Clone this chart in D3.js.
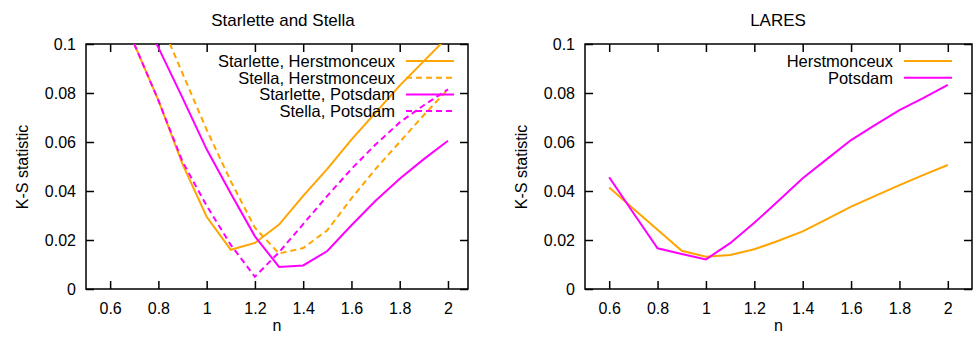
<!DOCTYPE html>
<html>
<head>
<meta charset="utf-8">
<script src="https://cdn.jsdelivr.net/npm/d3@7"></script>
<style>
  body { margin: 0; background: #fff; }
  svg text { font-family: "Liberation Sans", Arial, sans-serif; fill: #000; }
</style>
</head>
<body>
<div id="chart"></div>
<script>
// n values and K-S statistics
const nLeft = [0.7, 0.8, 0.9, 1.0, 1.1, 1.2, 1.3, 1.4, 1.5, 1.6, 1.7, 1.8, 1.9, 2.0];
const starletteHerst = [0.100, 0.077, 0.051, 0.0295, 0.016, 0.0188, 0.0263, 0.038, 0.049, 0.061, 0.072, 0.083, 0.093, 0.103];
const stellaHerst    = [0.134, 0.111, 0.088, 0.065, 0.044, 0.025, 0.0145, 0.0167, 0.024, 0.037, 0.049, 0.060, 0.071, 0.0815];
const starlettePots  = [0.119, 0.0985, 0.078, 0.057, 0.039, 0.0215, 0.009, 0.0096, 0.0155, 0.026, 0.036, 0.045, 0.053, 0.0605];
const stellaPots     = [0.100, 0.077, 0.052, 0.034, 0.018, 0.005, 0.015, 0.0265, 0.038, 0.049, 0.059, 0.068, 0.075, 0.0815];

const nRight = [0.6, 0.7, 0.8, 0.9, 1.0, 1.1, 1.2, 1.3, 1.4, 1.5, 1.6, 1.7, 1.8, 1.9, 2.0];
const laresHerst = [0.0414, 0.0328, 0.0242, 0.0156, 0.0132, 0.0139, 0.0162, 0.0197, 0.0235, 0.0285, 0.0336, 0.038, 0.0424, 0.0466, 0.0506];
const laresPots  = [0.0456, 0.031, 0.0166, 0.0143, 0.0121, 0.0187, 0.027, 0.036, 0.0452, 0.053, 0.0608, 0.067, 0.073, 0.078, 0.0833];

const xTicks = [0.6, 0.8, 1.0, 1.2, 1.4, 1.6, 1.8, 2.0];
const yTicks = [0, 0.02, 0.04, 0.06, 0.08, 0.1];

const ORANGE = "#ffa500";
const MAGENTA = "#ff00ff";

const svg = d3.select("#chart").append("svg")
  .attr("width", 973)
  .attr("height", 337);

function panel(cfg) {
  const x = d3.scaleLinear().domain([0.5, cfg.xMax]).range([cfg.left, cfg.right]);
  const y = d3.scaleLinear().domain([0, 0.1]).range([289, 44]);

  const g = svg.append("g");

  // clip lines to the plot frame
  const clipId = "clip-" + cfg.id;
  g.append("clipPath").attr("id", clipId)
    .append("rect")
    .attr("x", cfg.left).attr("y", 44)
    .attr("width", cfg.right - cfg.left).attr("height", 245);

  const fmt = d => d3.format("~g")(d);

  // axes with inward ticks, mirrored on all sides
  g.append("g").attr("transform", "translate(0,289)")
    .call(d3.axisBottom(x).tickValues(xTicks).tickSize(-8).tickPadding(14).tickFormat(fmt));
  g.append("g").attr("transform", "translate(0,44)")
    .call(d3.axisTop(x).tickValues(xTicks).tickSize(-8).tickFormat(""));
  g.append("g").attr("transform", "translate(" + cfg.left + ",0)")
    .call(d3.axisLeft(y).tickValues(yTicks).tickSize(-8).tickPadding(10).tickFormat(fmt));
  g.append("g").attr("transform", "translate(" + cfg.right + ",0)")
    .call(d3.axisRight(y).tickValues(yTicks).tickSize(-8).tickFormat(""));

  g.selectAll(".domain").remove();
  g.selectAll(".tick line").attr("stroke", "#000").attr("stroke-width", 1.5);
  g.selectAll(".tick text").style("font-size", "16px");

  g.append("rect")
    .attr("x", cfg.left).attr("y", 44)
    .attr("width", cfg.right - cfg.left).attr("height", 245)
    .attr("fill", "none").attr("stroke", "#000").attr("stroke-width", 1.5);

  const line = d3.line().x(d => x(d[0])).y(d => y(d[1]));

  cfg.series.forEach(s => {
    g.append("path")
      .datum(cfg.n.map((n, i) => [n, s.values[i]]))
      .attr("clip-path", "url(#" + clipId + ")")
      .attr("fill", "none")
      .attr("stroke", s.color)
      .attr("stroke-width", 2)
      .attr("stroke-dasharray", s.dashed ? "6,4" : null)
      .attr("d", line);
  });

  // legend
  cfg.series.forEach((s, i) => {
    const ly = 61 + i * 16.7;
    g.append("text")
      .attr("x", cfg.legendX).attr("y", ly + 6)
      .attr("text-anchor", "end")
      .style("font-size", "16.5px")
      .text(s.name);
    g.append("line")
      .attr("x1", cfg.legendX + 11).attr("x2", cfg.legendX + 59)
      .attr("y1", ly).attr("y2", ly)
      .attr("stroke", s.color).attr("stroke-width", 2)
      .attr("stroke-dasharray", s.dashed ? "6,4" : null);
  });

  g.append("text")
    .attr("x", cfg.titleX).attr("y", 26)
    .attr("text-anchor", "middle")
    .style("font-size", "17px")
    .text(cfg.title);

  g.append("text")
    .attr("x", (cfg.left + cfg.right) / 2).attr("y", 331)
    .attr("text-anchor", "middle")
    .style("font-size", "16px")
    .text("n");

  g.append("text")
    .attr("transform", "translate(" + (cfg.left - 58) + ",167) rotate(-90)")
    .attr("text-anchor", "middle")
    .style("font-size", "16px")
    .text("K-S statistic");
}

panel({
  id: "left", left: 86, right: 468, xMax: 2.083,
  title: "Starlette and Stella", titleX: 283, legendX: 395,
  n: nLeft,
  series: [
    { name: "Starlette, Herstmonceux", values: starletteHerst, color: ORANGE, dashed: false },
    { name: "Stella, Herstmonceux", values: stellaHerst, color: ORANGE, dashed: true },
    { name: "Starlette, Potsdam", values: starlettePots, color: MAGENTA, dashed: false },
    { name: "Stella, Potsdam", values: stellaPots, color: MAGENTA, dashed: true }
  ]
});

panel({
  id: "right", left: 585, right: 972, xMax: 2.1,
  title: "LARES", titleX: 778, legendX: 893,
  n: nRight,
  series: [
    { name: "Herstmonceux", values: laresHerst, color: ORANGE, dashed: false },
    { name: "Potsdam", values: laresPots, color: MAGENTA, dashed: false }
  ]
});
</script>
</body>
</html>
